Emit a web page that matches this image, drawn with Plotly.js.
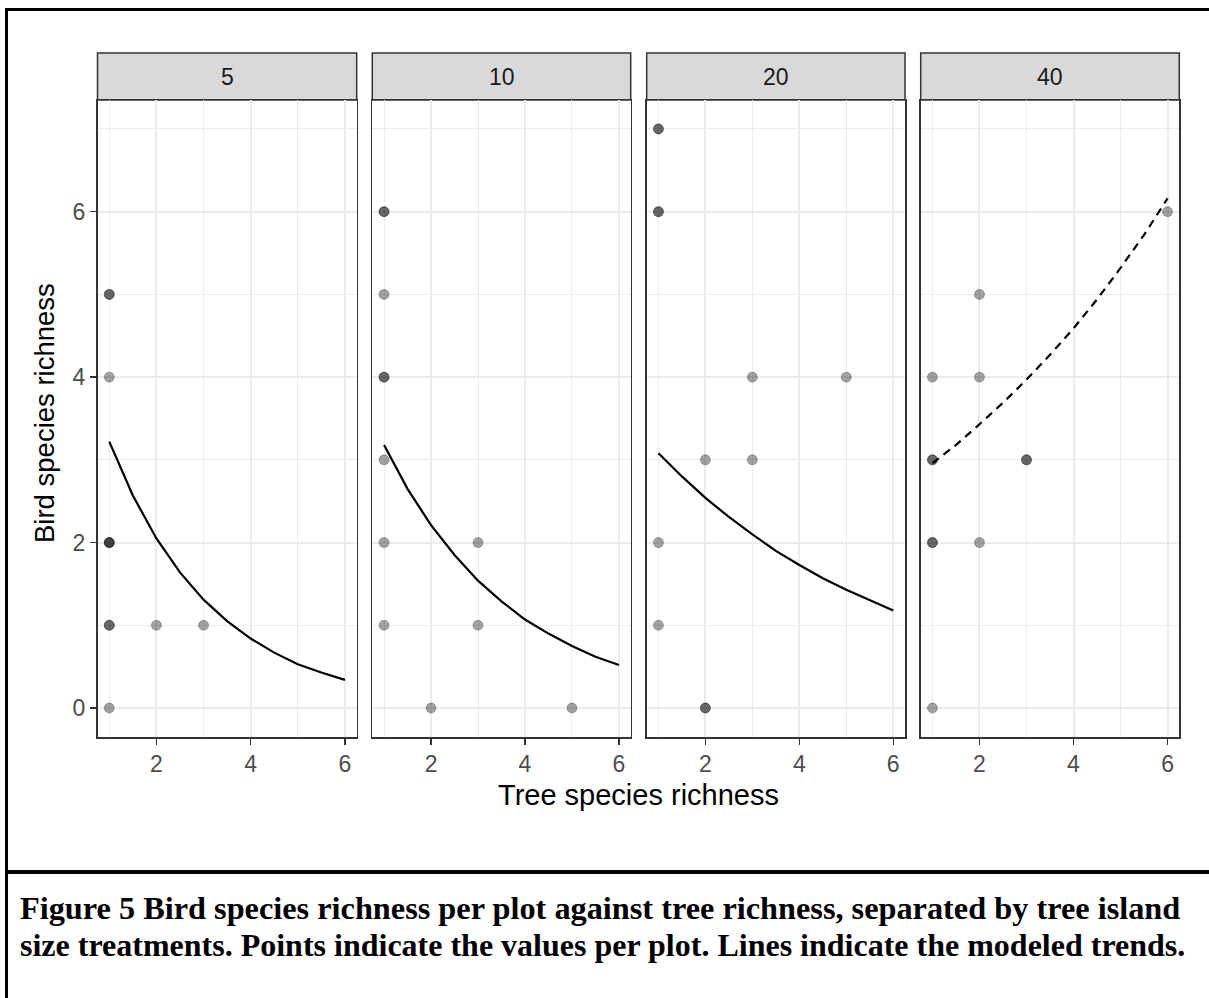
<!DOCTYPE html>
<html>
<head>
<meta charset="utf-8">
<script src="https://cdn.plot.ly/plotly-3.0.1.min.js"></script>
<style>html,body{margin:0;padding:0;background:#fff;}#chart{width:1209px;height:998px;}</style>
</head>
<body>
<div id="chart"></div>
<script>
// Facet labels (tree island size treatments)
const facetLabels = ["5", "10", "20", "40"];

// Observed points per facet (duplicates = overlapping plots)
const pts5_x  = [1, 1, 1, 1, 1, 1, 1, 1, 1, 2, 3];
const pts5_y  = [5, 5, 4, 2, 2, 2, 1, 1, 0, 1, 1];
const pts10_x = [1, 1, 1, 1, 1, 1, 1, 1, 2, 3, 3, 5];
const pts10_y = [6, 6, 5, 4, 4, 3, 2, 1, 0, 2, 1, 0];
const pts20_x = [1, 1, 1, 1, 1, 1, 2, 2, 2, 3, 3, 5];
const pts20_y = [7, 7, 6, 6, 2, 1, 3, 0, 0, 4, 3, 4];
const pts40_x = [1, 1, 1, 1, 1, 1, 2, 2, 2, 3, 3, 6];
const pts40_y = [4, 3, 3, 2, 2, 0, 5, 4, 2, 3, 3, 6];

// Modeled trends
const trend_x   = [1, 1.5, 2, 2.5, 3, 3.5, 4, 4.5, 5, 5.5, 6];
const trend5_y  = [3.22, 2.57, 2.05, 1.64, 1.31, 1.05, 0.84, 0.67, 0.53, 0.43, 0.34];
const trend10_y = [3.18, 2.65, 2.21, 1.85, 1.54, 1.29, 1.07, 0.90, 0.75, 0.62, 0.52];
const trend20_y = [3.08, 2.80, 2.54, 2.31, 2.10, 1.90, 1.73, 1.57, 1.43, 1.30, 1.18];
const trend40_y = [2.96, 3.18, 3.43, 3.69, 3.97, 4.27, 4.59, 4.94, 5.32, 5.72, 6.16];
const trendDash = ["solid", "solid", "solid", "8px,6px"];

const xTickVals = [2, 4, 6];
const yTickVals = [0, 2, 4, 6];

const ptsX = [pts5_x, pts10_x, pts20_x, pts40_x];
const ptsY = [pts5_y, pts10_y, pts20_y, pts40_y];
const trendY = [trend5_y, trend10_y, trend20_y, trend40_y];

const W = 1209, H = 998;
const panelPx = [[97.5, 356.7], [372.3, 630.7], [646.7, 905], [920.7, 1179.3]];
const plotTop = 100, plotBottom = 737, stripTop = 53;
const FONT = "Liberation Sans, Arial, sans-serif";

const traces = [];
const layout = {
  width: W, height: H,
  margin: {l: 0, r: 0, t: 0, b: 0},
  paper_bgcolor: "#ffffff", plot_bgcolor: "#ffffff",
  showlegend: false,
  font: {family: FONT, color: "#4d4d4d"},
  shapes: [], annotations: []
};

const yDom = [1 - plotBottom / H, 1 - plotTop / H];
for (let i = 0; i < 4; i++) {
  const sfx = i === 0 ? "" : String(i + 1);
  const xd = [panelPx[i][0] / W, panelPx[i][1] / W];
  traces.push({
    type: "scatter", mode: "markers", x: ptsX[i], y: ptsY[i],
    xaxis: "x" + sfx, yaxis: "y" + sfx, hoverinfo: "skip",
    marker: {size: 10, color: "rgba(0,0,0,0.36)", line: {width: 1, color: "rgba(0,0,0,0.25)"}}
  });
  traces.push({
    type: "scatter", mode: "lines", x: trend_x, y: trendY[i],
    xaxis: "x" + sfx, yaxis: "y" + sfx, hoverinfo: "skip",
    line: {color: "#000000", width: 2.2, dash: trendDash[i]}
  });
  layout["xaxis" + sfx] = {
    domain: xd, range: [0.75, 6.25], anchor: "y" + sfx,
    tickmode: "array", tickvals: xTickVals, ticktext: xTickVals.map(String),
    ticks: "outside", ticklen: 6, tickwidth: 1.5, tickcolor: "#333333",
    tickfont: {size: 23, color: "#4d4d4d", family: FONT},
    showgrid: true, gridcolor: "#ebebeb", gridwidth: 2,
    minor: {tickvals: [1, 3, 5], showgrid: true, gridcolor: "#ebebeb", gridwidth: 1},
    zeroline: false, showline: true, linecolor: "#333333", linewidth: 1.5, mirror: true,
    fixedrange: true
  };
  layout["yaxis" + sfx] = {
    domain: yDom, range: [-0.35, 7.35], anchor: "x" + sfx,
    tickmode: "array", tickvals: yTickVals, ticktext: yTickVals.map(String),
    ticks: i === 0 ? "outside" : "", ticklen: 6, tickwidth: 1.5, tickcolor: "#333333",
    showticklabels: i === 0,
    tickfont: {size: 23, color: "#4d4d4d", family: FONT},
    showgrid: true, gridcolor: "#ebebeb", gridwidth: 2,
    minor: {tickvals: [1, 3, 5, 7], showgrid: true, gridcolor: "#ebebeb", gridwidth: 1},
    zeroline: false, showline: true, linecolor: "#333333", linewidth: 1.5, mirror: true,
    fixedrange: true
  };
  // strip
  layout.shapes.push({
    type: "rect", xref: "paper", yref: "paper",
    x0: xd[0], x1: xd[1], y0: 1 - plotTop / H, y1: 1 - stripTop / H,
    fillcolor: "#d9d9d9", line: {color: "#333333", width: 1.5}, layer: "below"
  });
  layout.annotations.push({
    xref: "paper", yref: "paper", x: (xd[0] + xd[1]) / 2, y: 1 - (plotTop + stripTop) / 2 / H,
    text: facetLabels[i], showarrow: false, xanchor: "center", yanchor: "middle",
    font: {size: 23, color: "#1a1a1a", family: FONT}
  });
}

// axis titles
layout.annotations.push({
  xref: "paper", yref: "paper", x: (panelPx[0][0] + panelPx[3][1]) / 2 / W, y: 1 - 795 / H,
  text: "Tree species richness", showarrow: false, xanchor: "center", yanchor: "middle",
  font: {size: 29, color: "#000000", family: FONT}
});
layout.annotations.push({
  xref: "paper", yref: "paper", x: 44 / W, y: 1 - 413 / H, textangle: -90,
  text: "Bird species richness", showarrow: false, xanchor: "center", yanchor: "middle",
  font: {size: 27.5, color: "#000000", family: FONT}
});

// caption
const SERIF = "Liberation Serif, Times New Roman, serif";
layout.annotations.push({
  xref: "paper", yref: "paper", x: 18 / W, y: 1 - 908 / H, xanchor: "left", yanchor: "middle",
  text: "<b>Figure 5 Bird species richness per plot against tree richness, separated by tree island</b>",
  showarrow: false, font: {size: 32.3, color: "#000000", family: SERIF}
});
layout.annotations.push({
  xref: "paper", yref: "paper", x: 18 / W, y: 1 - 945 / H, xanchor: "left", yanchor: "middle",
  text: "<b>size treatments. Points indicate the values per plot. Lines indicate the modeled trends.</b>",
  showarrow: false, font: {size: 32, color: "#000000", family: SERIF}
});

// page frame lines
layout.shapes.push({type: "line", xref: "paper", yref: "paper", x0: 5 / W, x1: 1, y0: 1 - 9.5 / H, y1: 1 - 9.5 / H, line: {color: "#000", width: 3}});
layout.shapes.push({type: "line", xref: "paper", yref: "paper", x0: 6.5 / W, x1: 6.5 / W, y0: 0, y1: 1 - 8 / H, line: {color: "#000", width: 3}});
layout.shapes.push({type: "line", xref: "paper", yref: "paper", x0: 5 / W, x1: 1, y0: 1 - 872 / H, y1: 1 - 872 / H, line: {color: "#000", width: 4}});

Plotly.newPlot("chart", traces, layout, {staticPlot: true, displayModeBar: false});
</script>
</body>
</html>
